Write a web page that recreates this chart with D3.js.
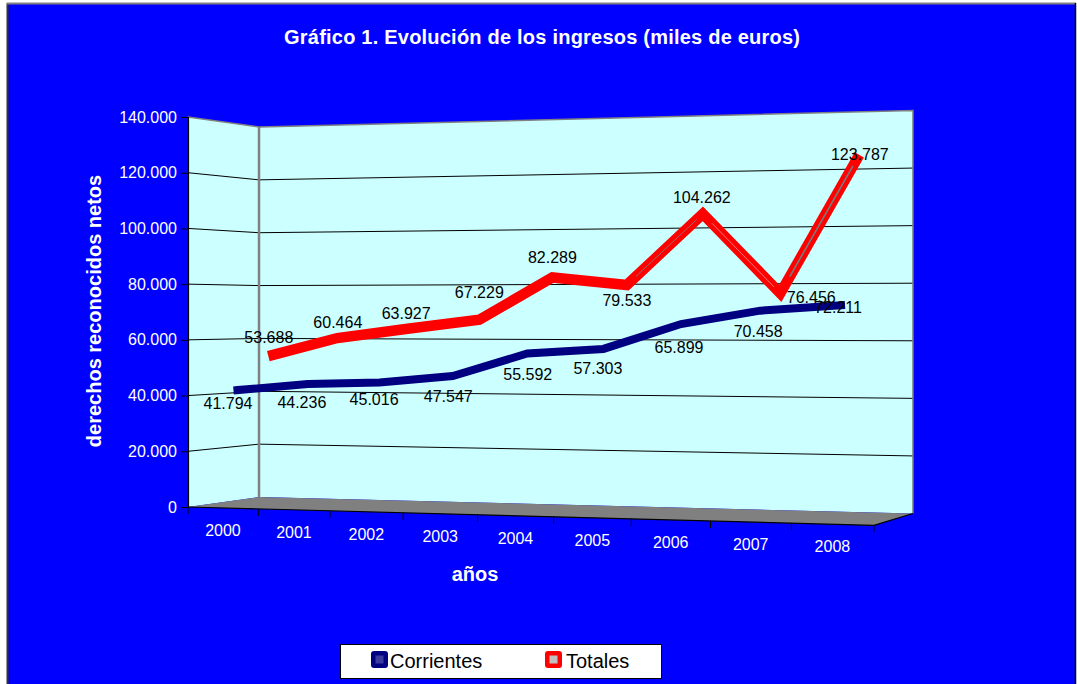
<!DOCTYPE html>
<html>
<head>
<meta charset="utf-8">
<script src="https://cdn.jsdelivr.net/npm/d3@7"></script>
<style>
  html, body { margin: 0; padding: 0; background: #ffffff; }
  svg { display: block; }
  text { font-family: "Liberation Sans", Arial, Helvetica, sans-serif; }
</style>
</head>
<body>
<svg id="chart" width="1077" height="684"></svg>
<script>
// ---- data ----
const years = ["2000", "2001", "2002", "2003", "2004", "2005", "2006", "2007", "2008"];
const corrientes = [41794, 44236, 45016, 47547, 55592, 57303, 65899, 70458, 72211];
const totales = [53688, 60464, 63927, 67229, 82289, 79533, 104262, 76456, 123787];
const valueTicks = [0, 20000, 40000, 60000, 80000, 100000, 120000, 140000];
const seriesNames = ["Corrientes", "Totales"];

// ---- label nudges (pixels, relative to each projected point) ----
const corrientesLabelShift = [[-9.5, 13], [-6, 18], [-5.5, 16.5], [-4.5, 20], [0.5, 20.5], [-5.5, 19], [-2, 23], [-2, 20.5], [-3, 1.5]];
const totalesLabelShift = [[0.5, -19], [0.5, -16], [-1.5, -15.5], [0, -27.5], [0, -20.5], [0, 15], [-1, -17], [31, 3.5], [0.5, -1]];

// ---- perspective box geometry ----
// u: category position (0..9), w: depth (0 = front, 1 = back wall)
const X0 = 188, Q = 67.83, R = 85, B = -0.00959, C = 0.054, Y_EYE = 312;
const FONT = '"Liberation Sans", Arial, Helvetica, sans-serif';

const svg = d3.select("#chart");

const uScale = d3.scaleBand().domain(years).range([0, years.length]).padding(0);
const yFront = d3.scaleLinear().domain([0, 140000]).range([507, 117]);

function proj(u, v, w) {
  const d = 1 + B * u + C * w;
  return [(X0 + Q * u + R * w) / d, Y_EYE + (yFront(v) - Y_EYE) / d];
}

const es = d3.formatLocale({ decimal: ",", thousands: ".", grouping: [3], currency: ["", " €"] });
const fmt = es.format(",d");

// ---- background ----
svg.append("rect").attr("x", 7).attr("y", 3).attr("width", 1069).attr("height", 700).attr("fill", "#0000ff");
svg.append("line").attr("x1", 7.5).attr("x2", 7.5).attr("y1", 3).attr("y2", 684).attr("stroke", "#333333").attr("stroke-width", 2);
svg.append("line").attr("x1", 7).attr("x2", 1076).attr("y1", 3.5).attr("y2", 3.5).attr("stroke", "#808080").attr("stroke-width", 2);
svg.append("line").attr("x1", 1075.5).attr("x2", 1075.5).attr("y1", 3).attr("y2", 684).attr("stroke", "#000000").attr("stroke-width", 1.5);

// ---- title ----
svg.append("text").attr("x", 542).attr("y", 44).attr("text-anchor", "middle")
  .attr("fill", "#ffffff").attr("font-weight", "bold").attr("font-size", 20)
  .attr("textLength", 516).attr("lengthAdjust", "spacing")
  .text("Gráfico 1. Evolución de los ingresos (miles de euros)");

const N = years.length;
const vMax = 140000;
const poly = pts => pts.map(p => p.join(",")).join(" ");

// ---- walls ----
const backWall = [proj(0, 0, 1), proj(0, vMax, 1), proj(N, vMax, 1), proj(N, 0, 1)];
const leftWall = [proj(0, 0, 0), proj(0, vMax, 0), proj(0, vMax, 1), proj(0, 0, 1)];
svg.append("polygon").attr("points", poly(backWall)).attr("fill", "#ccffff");
svg.append("polygon").attr("points", poly(leftWall)).attr("fill", "#ccffff");

// gridlines on both walls
const grid = svg.append("g").attr("stroke", "#000000").attr("stroke-width", 1).attr("fill", "none");
valueTicks.filter(v => v > 0 && v < vMax).forEach(v => {
  grid.append("polyline").attr("points", poly([proj(0, v, 0), proj(0, v, 1), proj(N, v, 1)]));
});

// wall edges
const edges = svg.append("g").attr("stroke", "#808080").attr("fill", "none");
edges.append("polyline").attr("stroke-width", 1.5)
  .attr("points", poly([proj(0, vMax, 0), proj(0, vMax, 1), proj(N, vMax, 1), proj(N, 0, 1)]));
edges.append("line").attr("stroke-width", 2.5)
  .attr("x1", proj(0, 0, 1)[0]).attr("y1", proj(0, 0, 1)[1])
  .attr("x2", proj(0, vMax, 1)[0]).attr("y2", proj(0, vMax, 1)[1]);

// ---- floor ----
const floor = [proj(0, 0, 0), proj(0, 0, 1), proj(N, 0, 1), proj(N, 0, 0)];
svg.append("polygon").attr("points", poly(floor)).attr("fill", "#808080");
svg.append("polyline").attr("points", poly([proj(0, 0, 0), proj(N, 0, 0), proj(N, 0, 1)]))
  .attr("fill", "none").attr("stroke", "#000000").attr("stroke-width", 1.2);

// category ticks along the front edge
const ticks = svg.append("g").attr("stroke", "#000000").attr("stroke-width", 1);
d3.range(N + 1).forEach(i => {
  const p = proj(i, 0, 0);
  ticks.append("line").attr("x1", p[0]).attr("x2", p[0]).attr("y1", p[1]).attr("y2", p[1] + 7);
});

// category labels
svg.append("g").selectAll("text").data(years).join("text")
  .attr("x", d => proj(uScale(d) + uScale.bandwidth() / 2, 0, 0)[0])
  .attr("y", d => proj(uScale(d) + uScale.bandwidth() / 2, 0, 0)[1] + 22)
  .attr("dy", "0.36em")
  .attr("text-anchor", "middle").attr("fill", "#ffffff").attr("font-size", 16)
  .text(d => d);

// ---- value axis on the front-left edge ----
const yAxis = svg.append("g").attr("transform", `translate(${X0},0)`)
  .call(d3.axisLeft(yFront).tickValues(valueTicks).tickFormat(fmt).tickSize(7).tickPadding(4));
yAxis.select(".domain").attr("stroke", "#000000").attr("stroke-width", 1.2);
yAxis.selectAll(".tick line").attr("stroke", "#000000");
yAxis.selectAll(".tick text").attr("fill", "#ffffff").attr("font-size", 16).attr("font-family", FONT);

// axis titles
svg.append("text").attr("transform", "translate(101,311) rotate(-90)")
  .attr("text-anchor", "middle").attr("fill", "#ffffff").attr("font-weight", "bold").attr("font-size", 20)
  .text("derechos reconocidos netos");
svg.append("text").attr("x", 475).attr("y", 581).attr("text-anchor", "middle")
  .attr("fill", "#ffffff").attr("font-weight", "bold").attr("font-size", 20)
  .text("años");

// ---- series ribbons ----
const series = [
  { name: seriesNames[1], values: totales, depth: 0.64, color: "#ff0000", width: 10.5, cap: "butt", shift: totalesLabelShift },
  { name: seriesNames[0], values: corrientes, depth: 0.2, color: "#000080", width: 8, cap: "square", shift: corrientesLabelShift }
];
// inner edge of the red ribbon on its steep stretches
const ridgeSegments = [[5, 6, "#9a6a6a", 1], [6, 7, "#f07878", 1], [7, 8, "#7a7a7a", 1.6]];

const line = d3.line().x(d => d[0]).y(d => d[1]);

series.forEach(s => {
  const pts = s.values.map((v, i) => proj(uScale(years[i]) + uScale.bandwidth() / 2, v, s.depth));
  s.pts = pts;
  svg.append("path").attr("d", line(pts)).attr("fill", "none")
    .attr("stroke", s.color).attr("stroke-width", s.width)
    .attr("stroke-linejoin", "miter").attr("stroke-linecap", s.cap);
  if (s.values === totales) {
    ridgeSegments.forEach(([a, b, c, sw]) => {
      const t0 = 0.12, t1 = 0.92;
      svg.append("line")
        .attr("x1", pts[a][0] + (pts[b][0] - pts[a][0]) * t0).attr("y1", pts[a][1] + (pts[b][1] - pts[a][1]) * t0)
        .attr("x2", pts[a][0] + (pts[b][0] - pts[a][0]) * t1).attr("y2", pts[a][1] + (pts[b][1] - pts[a][1]) * t1)
        .attr("stroke", c).attr("stroke-width", sw);
    });
  }
});

// data labels
series.forEach(s => {
  svg.append("g").selectAll("text").data(s.values).join("text")
    .attr("x", (v, i) => s.pts[i][0] + s.shift[i][0])
    .attr("y", (v, i) => s.pts[i][1] + s.shift[i][1])
    .attr("dy", "0.36em")
    .attr("text-anchor", "middle").attr("fill", "#000000").attr("font-size", 16)
    .text(v => fmt(v));
});

// ---- legend ----
const lg = svg.append("g");
lg.append("rect").attr("x", 340.5).attr("y", 644.5).attr("width", 321).attr("height", 34)
  .attr("fill", "#ffffff").attr("stroke", "#000000").attr("stroke-width", 1);
const legendItems = [
  { name: seriesNames[0], x: 371, outer: "#000080", inner: "#3a3a9e", tx: 390 },
  { name: seriesNames[1], x: 545, outer: "#ff0000", inner: "#c0c0c0", tx: 566 }
];
legendItems.forEach(it => {
  lg.append("rect").attr("x", it.x).attr("y", 651).attr("width", 17).attr("height", 17).attr("rx", 3)
    .attr("fill", it.outer);
  lg.append("rect").attr("x", it.x + 4.5).attr("y", 655.5).attr("width", 8).attr("height", 8)
    .attr("fill", it.inner);
  lg.append("text").attr("x", it.tx).attr("y", 668).attr("fill", "#000000").attr("font-size", 20)
    .text(it.name);
});
</script>
</body>
</html>
